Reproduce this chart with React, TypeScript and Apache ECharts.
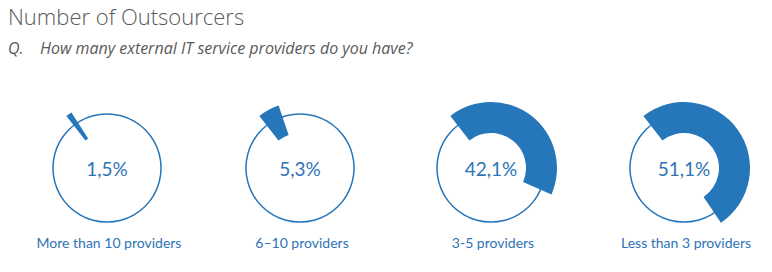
import React, { useEffect, useRef } from "react";
import * as echarts from "echarts";

// Survey answers: share of respondents per number of IT service providers
const categories = ["More than 10 providers", "6–10 providers", "3-5 providers", "Less than 3 providers"];
const shares = [1.5, 5.3, 42.1, 51.1];

const titleText = "Number of Outsourcers";
const questionPrefix = "Q.";
const questionText = "How many external IT service providers do you have?";

const BLUE = "#2676BA";
const TEXT_BLUE = "#2E74B5";
const GRAY = "#595959";

const centerXs = [107, 300, 491, 684];
const centerY = 168;

const fmt = (v: number) => v.toFixed(1).replace(".", ",") + "%";

export default function App() {
  const ref = useRef<HTMLDivElement>(null);

  useEffect(() => {
    document.body.style.margin = "0";
    const chart = echarts.init(ref.current!, null, { renderer: "svg" });

    const series: any[] = [];
    shares.forEach((v, i) => {
      // thin outline circle carrying the centred percentage
      series.push({
        type: "pie",
        silent: true,
        center: [centerXs[i], centerY],
        radius: [53.3, 54.8],
        startAngle: 90,
        label: {
          show: true,
          position: "center",
          formatter: () => fmt(v),
          color: TEXT_BLUE,
          fontFamily: "Lato",
          fontSize: 19,
        },
        labelLine: { show: false },
        itemStyle: { color: BLUE },
        data: [{ value: 1, name: categories[i] }],
      });
      // thick arc showing the share
      series.push({
        type: "pie",
        silent: true,
        center: [centerXs[i], centerY],
        radius: [35, 66],
        startAngle: 128,
        clockwise: true,
        label: { show: false },
        labelLine: { show: false },
        data: [
          { value: v, name: categories[i], itemStyle: { color: BLUE } },
          { value: 100 - v, name: "rest", itemStyle: { color: "transparent" } },
        ],
      });
    });

    const graphics: any[] = [
      {
        type: "text",
        x: 8,
        y: 16,
        style: {
          text: titleText,
          font: "300 22px 'Open Sans'",
          fill: GRAY,
          verticalAlign: "middle",
        },
      },
      {
        type: "text",
        x: 8,
        y: 48,
        style: {
          text: questionPrefix,
          font: "italic 16px 'Open Sans'",
          fill: GRAY,
          verticalAlign: "middle",
        },
      },
      {
        type: "text",
        x: 40,
        y: 48,
        style: {
          text: questionText,
          font: "italic 16px 'Open Sans'",
          fill: GRAY,
          verticalAlign: "middle",
        },
      },
    ];
    categories.forEach((c, i) => {
      graphics.push({
        type: "text",
        x: centerXs[i] + 2,
        y: 242,
        style: {
          text: c,
          font: "14px Lato",
          fill: TEXT_BLUE,
          align: "center",
          verticalAlign: "middle",
        },
      });
    });

    chart.setOption({
      animation: false,
      series,
      graphic: graphics,
    });

    return () => chart.dispose();
  }, []);

  return <div ref={ref} style={{ width: 772, height: 272 }} />;
}
